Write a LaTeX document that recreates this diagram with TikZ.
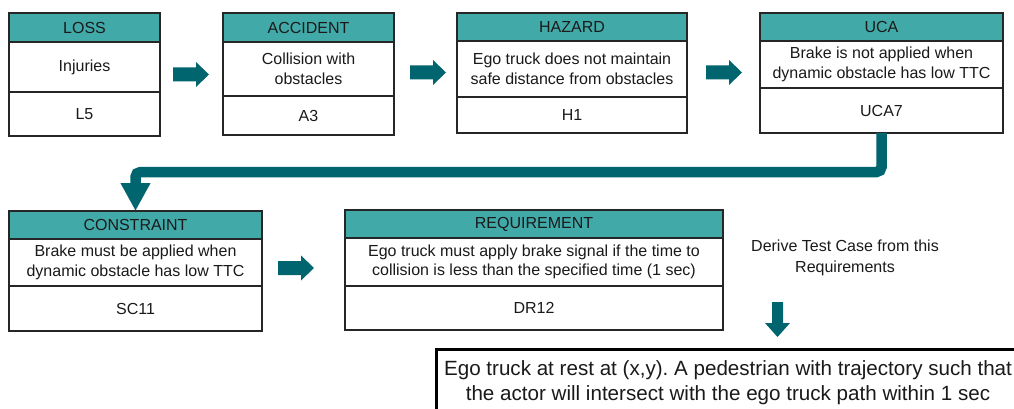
\documentclass[tikz,border=0pt]{standalone}
\usepackage{fontspec}
\setmainfont{Liberation Sans}
\usetikzlibrary{arrows.meta}
\definecolor{hdrteal}{HTML}{41AAA8}
\definecolor{arrteal}{HTML}{00656E}
\definecolor{boxline}{HTML}{262626}
\definecolor{txt}{HTML}{1A1A1A}
\tikzset{
  part/.style={draw=boxline, line width=1.2pt, anchor=north west, inner sep=0pt, outer sep=0pt,
    align=center, text=txt, font=\fontsize{16}{19.5}\selectfont},
  hdrpart/.style={part, fill=hdrteal},
  bodypart/.style={part, fill=white},
  blockarrow/.style={fill=arrteal, draw=none},
  conn/.style={draw=arrteal, line width=10.5pt, rounded corners=5pt, -{Triangle[length=28pt,width=28pt]}},
}
\newcommand{\rarrow}[2]{\fill[blockarrow] (#1,#2-7) -- (#1+23,#2-7) -- (#1+23,#2-12.5) -- (#1+36,#2) -- (#1+23,#2+12.5) -- (#1+23,#2+7) -- (#1,#2+7) -- cycle;}
\frenchspacing
\begin{document}
\begin{tikzpicture}[x=1pt,y=-1pt]
\clip (0,0) rectangle (1014,409);
\fill[white] (0,0) rectangle (1014,409);

% LOSS
\node[hdrpart, minimum width=151pt, minimum height=29pt] (loss-h) at (9,13) {LOSS};
\node[bodypart, minimum width=151pt, minimum height=50pt] (loss-b) at (loss-h.south west) {Injuries};
\node[bodypart, minimum width=151pt, minimum height=44pt] (loss-i) at (loss-b.south west) {L5};

% ACCIDENT
\node[hdrpart, minimum width=171pt, minimum height=29pt] (acc-h) at (223,13) {ACCIDENT};
\node[bodypart, minimum width=171pt, minimum height=54pt] (acc-b) at (acc-h.south west) {Collision with\\obstacles};
\node[bodypart, minimum width=171pt, minimum height=39pt] (acc-i) at (acc-b.south west) {A3};

% HAZARD
\node[hdrpart, minimum width=230pt, minimum height=28pt] (haz-h) at (457,13) {HAZARD};
\node[bodypart, minimum width=230pt, minimum height=56pt] (haz-b) at (haz-h.south west) {Ego truck does not maintain\\safe distance from obstacles};
\node[bodypart, minimum width=230pt, minimum height=36pt] (haz-i) at (haz-b.south west) {H1};

% UCA
\node[hdrpart, minimum width=243pt, minimum height=28pt] (uca-h) at (760,13) {UCA};
\node[bodypart, minimum width=243pt, minimum height=47pt] (uca-b) at (uca-h.south west) {Brake is not applied when\\dynamic obstacle has low TTC};
\node[bodypart, minimum width=243pt, minimum height=45pt] (uca-i) at (uca-b.south west) {UCA7};

% CONSTRAINT
\node[hdrpart, minimum width=253pt, minimum height=28pt] (con-h) at (9,211) {CONSTRAINT};
\node[bodypart, minimum width=253pt, minimum height=47pt] (con-b) at (con-h.south west) {Brake must be applied when\\dynamic obstacle has low TTC};
\node[bodypart, minimum width=253pt, minimum height=45pt] (con-i) at (con-b.south west) {SC11};

% REQUIREMENT
\node[hdrpart, minimum width=378pt, minimum height=28pt] (req-h) at (345,210) {REQUIREMENT};
\node[bodypart, minimum width=378pt, minimum height=48pt] (req-b) at (req-h.south west) {Ego truck must apply brake signal if the time to\\collision is less than the specified time (1 sec)};
\node[bodypart, minimum width=378pt, minimum height=44pt] (req-i) at (req-b.south west) {DR12};

% note
\node[align=center, text=txt, font=\fontsize{16}{21}\selectfont, inner sep=0pt] (note) at (845,257.5) {Derive Test Case from this\\Requirements};

% test case box
\node[draw=black, line width=2.5pt, anchor=north west, minimum width=586pt, minimum height=80pt, inner sep=0pt] (tcbox) at (435,348) {};
\node[anchor=north, align=center, inner sep=0pt, text=txt, font=\fontsize{20.6}{25}\selectfont] (tc) at (728,360.5)
  {Ego truck at rest at (x,y). A pedestrian with trajectory such that\\the actor will intersect with the ego truck path within 1 sec};

% block arrows
\rarrow{173}{74.5}
\rarrow{410}{72.5}
\rarrow{706}{72.5}
\rarrow{278}{268}
\fill[blockarrow] (772,302) -- (783,302) -- (783,323) -- (790,323) -- (777.5,337) -- (765,323) -- (772,323) -- cycle;

% connector UCA -> CONSTRAINT
\draw[conn] (uca-i.south) -- ++(0,39) -| (con-h.north);
\end{tikzpicture}
\end{document}
